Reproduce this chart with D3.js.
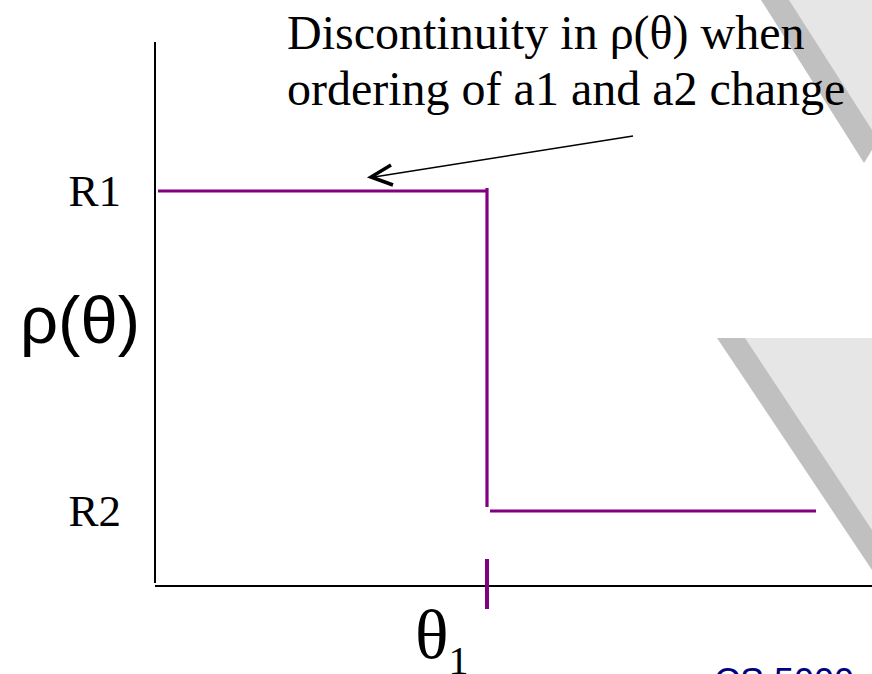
<!DOCTYPE html>
<html>
<head>
<meta charset="utf-8">
<script src="https://cdn.jsdelivr.net/npm/d3@7"></script>
<style>
  html, body { margin: 0; padding: 0; background: #fff; }
  svg { display: block; }
</style>
</head>
<body>
<div id="chart"></div>
<script>
// ---- data ----
const thetaPoints = [0, 1, 2];          // start, θ1 (discontinuity), end
const rhoLevels = [1, 0];               // R1, R2
const rhoLabels = ["R1", "R2"];
const thetaTickLabel = "θ";
const thetaTickSub = "1";
const yAxisLabel = "ρ(θ)";
const annotationLines = ["Discontinuity in ρ(θ) when", "ordering of a1 and a2 change"];
const footerText = "CS 5000";

// ---- setup ----
const W = 872, H = 674;
const svg = d3.select("#chart").append("svg").attr("width", W).attr("height", H);
const serif = "'Liberation Serif','Times New Roman',serif";
const sans = "'Liberation Sans',Arial,sans-serif";

// background decorations (slide template)
const deco = svg.append("g");
deco.append("polygon").attr("points", "761,0 872,0 872,150 864,163").attr("fill", "#c0c0c0");
deco.append("polygon").attr("points", "789,0 872,0 872,130").attr("fill", "#e6e6e6");
deco.append("polygon").attr("points", "717,338 872,338 872,570").attr("fill", "#c0c0c0");
deco.append("polygon").attr("points", "745,338 872,338 872,530").attr("fill", "#e6e6e6");

// scales
const x = d3.scaleLinear().domain([0, 2]).range([158, 816]);
const y = d3.scaleLinear().domain([0, 1]).range([511, 191]);

// axes
const axisX0 = 155, axisY0 = 586;
svg.append("line").attr("x1", axisX0).attr("x2", axisX0).attr("y1", 42).attr("y2", 583)
  .attr("stroke", "#000").attr("stroke-width", 2);
svg.append("line").attr("x1", axisX0).attr("x2", W).attr("y1", axisY0).attr("y2", axisY0)
  .attr("stroke", "#000").attr("stroke-width", 2);

// step function
const purple = "#800080";
const g = svg.append("g").attr("stroke", purple).attr("stroke-width", 3.2).attr("fill", "none");
g.append("line").attr("x1", x(thetaPoints[0])).attr("x2", x(thetaPoints[1]))
  .attr("y1", y(rhoLevels[0])).attr("y2", y(rhoLevels[0]));
g.append("line").attr("x1", x(thetaPoints[1])).attr("x2", x(thetaPoints[1]))
  .attr("y1", y(rhoLevels[0]) - 3).attr("y2", y(rhoLevels[1]) - 4);
g.append("line").attr("x1", x(thetaPoints[1]) + 3).attr("x2", x(thetaPoints[2]))
  .attr("y1", y(rhoLevels[1])).attr("y2", y(rhoLevels[1]));
// tick at θ1
svg.append("line").attr("x1", x(thetaPoints[1])).attr("x2", x(thetaPoints[1]))
  .attr("y1", axisY0 - 27).attr("y2", axisY0 + 23)
  .attr("stroke", purple).attr("stroke-width", 4);

// level labels
svg.selectAll("text.lvl").data(rhoLevels).enter().append("text")
  .attr("class", "lvl")
  .attr("x", 121).attr("y", d => y(d) + 15)
  .attr("text-anchor", "end")
  .attr("font-family", serif).attr("font-size", 45)
  .text((d, i) => rhoLabels[i]);

// y-axis label
svg.append("text").attr("x", 20).attr("y", 343)
  .attr("font-family", sans).attr("font-size", 67)
  .text(yAxisLabel);

// x tick label θ1
const tl = svg.append("text").attr("x", x(thetaPoints[1]) - 72).attr("y", 658)
  .attr("font-family", serif).attr("font-size", 70);
tl.append("tspan").text(thetaTickLabel);
tl.append("tspan").attr("font-size", 40).attr("dy", 16).attr("dx", 0).text(thetaTickSub);

// annotation
svg.selectAll("text.ann").data(annotationLines).enter().append("text")
  .attr("class", "ann")
  .attr("x", 287).attr("y", (d, i) => 49 + i * 56)
  .attr("font-family", serif).attr("font-size", 48)
  .text(d => d);

// arrow
svg.append("line").attr("x1", 633).attr("y1", 136).attr("x2", 374).attr("y2", 177)
  .attr("stroke", "#000").attr("stroke-width", 1.5);
svg.append("polyline").attr("points", "391,165 371,177 393,185")
  .attr("fill", "none").attr("stroke", "#000").attr("stroke-width", 3.5);

// footer
svg.append("text").attr("x", 714).attr("y", 694)
  .attr("font-family", sans).attr("font-size", 36).attr("fill", "#000080")
  .text(footerText);
</script>
</body>
</html>
